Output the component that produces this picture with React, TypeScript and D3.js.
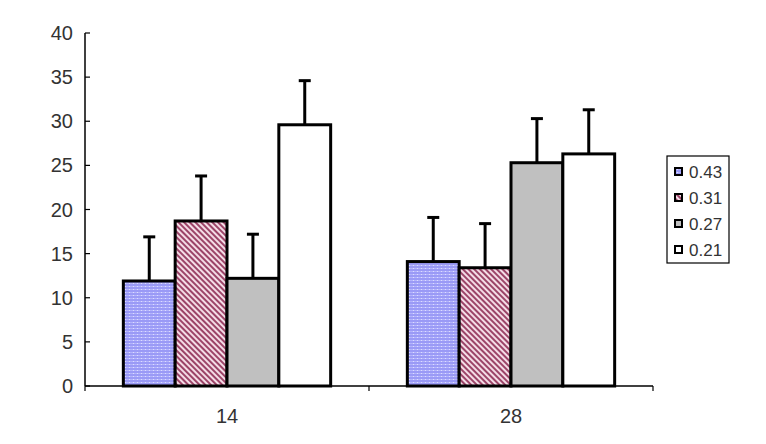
import React from "react";
import * as d3 from "d3";

const categories = ["14", "28"];
const seriesNames = ["0.43", "0.31", "0.27", "0.21"];
const values14 = [11.9, 18.7, 12.2, 29.6];
const values28 = [14.1, 13.4, 25.3, 26.3];
const errors14 = [5.0, 5.1, 5.0, 5.0];
const errors28 = [5.0, 5.0, 5.0, 5.0];
const yTicks = [0, 5, 10, 15, 20, 25, 30, 35, 40];

const fills = ["url(#pBlue)", "url(#pHatch)", "#c0c0c0", "#ffffff"];

export default function App() {
  const W = 766, H = 444;
  const left = 85, right = 653, top = 33, bottom = 386;
  const x0 = d3.scaleBand().domain(categories).range([left, right]).paddingInner(0).paddingOuter(0);
  const bw = x0.bandwidth();
  const groupW = bw * 0.73;
  const x1 = d3.scaleBand().domain(seriesNames).range([0, groupW]).padding(0);
  const y = d3.scaleLinear().domain([0, 40]).range([bottom, top]);
  const data = [values14, values28];
  const errs = [errors14, errors28];
  const font = "'Liberation Sans', Arial, sans-serif";
  return (
    <svg width={W} height={H} style={{ position: "absolute", left: 0, top: 0, background: "#fff" }}>
      <defs>
        <pattern id="pBlue" width="4" height="3" patternUnits="userSpaceOnUse">
          <rect width="4" height="3" fill="#9a9af6" />
          <rect x="0" y="1" width="4" height="1" fill="#b4b4fc" />
          <rect x="1" y="1" width="1" height="1" fill="#dcdcff" />
        </pattern>
        <pattern id="pHatch" width="4" height="4" patternUnits="userSpaceOnUse" patternTransform="rotate(-45)">
          <rect width="4" height="4" fill="#f4dce6" />
          <rect width="2" height="4" fill="#9c4468" />
        </pattern>
      </defs>
      {/* axes */}
      <line x1={left} y1={top} x2={left} y2={bottom} stroke="#000" strokeWidth={1.5} />
      <line x1={left} y1={bottom} x2={right} y2={bottom} stroke="#000" strokeWidth={1.5} />
      {yTicks.map((t) => (
        <g key={t}>
          <line x1={left} x2={left + 5} y1={y(t)} y2={y(t)} stroke="#000" strokeWidth={1.2} />
          <text x={73} y={y(t)} dy="0.35em" textAnchor="end" fontFamily={font} fontSize={20} fill="#333">{t}</text>
        </g>
      ))}
      {[left, left + bw, right].map((xx, i) => (
        <line key={i} x1={xx} x2={xx} y1={bottom} y2={bottom + 5} stroke="#000" strokeWidth={1.2} />
      ))}
      {categories.map((c) => (
        <text key={c} x={(x0(c) as number) + bw / 2} y={416} dy="0.35em" textAnchor="middle" fontFamily={font} fontSize={20} fill="#333">{c}</text>
      ))}
      {/* bars */}
      {categories.map((c, ci) => {
        const gx = (x0(c) as number) + (bw - groupW) / 2;
        return seriesNames.map((s, si) => {
          const v = data[ci][si];
          const e = errs[ci][si];
          const bx = gx + (x1(s) as number);
          const cx = bx + x1.bandwidth() / 2;
          return (
            <g key={c + s}>
              <line x1={cx} x2={cx} y1={y(v)} y2={y(v + e)} stroke="#000" strokeWidth={3} />
              <line x1={cx - 6} x2={cx + 6} y1={y(v + e)} y2={y(v + e)} stroke="#000" strokeWidth={3} />
              <rect x={bx} y={y(v)} width={x1.bandwidth()} height={bottom - y(v)} fill={fills[si]} stroke="#000" strokeWidth={3} />
            </g>
          );
        });
      })}
      {/* legend */}
      <rect x={667} y={156} width={62} height={107} fill="#fff" stroke="#000" strokeWidth={1.2} />
      {seriesNames.map((s, i) => {
        const ly = 172 + i * 26;
        return (
          <g key={s}>
            <rect x={675} y={ly - 4} width={7} height={7} fill={fills[i]} stroke="#000" strokeWidth={2} />
            <text x={689} y={ly} dy="0.35em" fontFamily={font} fontSize={17} fill="#333">{s}</text>
          </g>
        );
      })}
    </svg>
  );
}
